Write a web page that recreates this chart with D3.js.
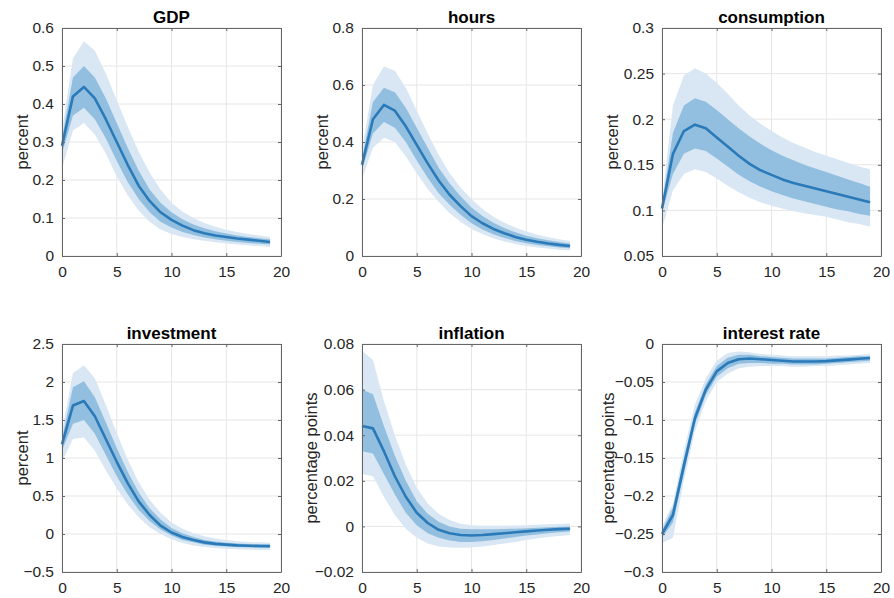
<!DOCTYPE html>
<html>
<head>
<meta charset="utf-8">
<script src="https://cdn.jsdelivr.net/npm/d3@7"></script>
<style>
  body { margin: 0; background: #fff; }
  text { font-family: "Liberation Sans", Arial, Helvetica, sans-serif; }
</style>
</head>
<body>
<div id="canvas"></div>
<script>
// horizon
const periods = d3.range(0, 20);

const titles = ['GDP', 'hours', 'consumption', 'investment', 'inflation', 'interest rate'];
const yLabels = ['percent', 'percent', 'percent', 'percent', 'percentage points', 'percentage points'];
const yDomains = [[0, 0.6], [0, 0.8], [0.05, 0.3], [-0.5, 2.5], [-0.02, 0.08], [-0.3, 0]];
const yTicks = [
  [0, 0.1, 0.2, 0.3, 0.4, 0.5, 0.6],
  [0, 0.2, 0.4, 0.6, 0.8],
  [0.05, 0.1, 0.15, 0.2, 0.25, 0.3],
  [-0.5, 0, 0.5, 1, 1.5, 2, 2.5],
  [-0.02, 0, 0.02, 0.04, 0.06, 0.08],
  [-0.3, -0.25, -0.2, -0.15, -0.1, -0.05, 0]
];
const xTicks = [0, 5, 10, 15, 20];

// median responses and bands [lower, upper]
const gdpMed = [0.29, 0.42, 0.445, 0.415, 0.36, 0.30, 0.24, 0.185, 0.145, 0.115, 0.095, 0.08, 0.068, 0.06, 0.054, 0.05, 0.046, 0.043, 0.04, 0.037];
const gdpIn = [
  [0.27, 0.37, 0.39, 0.36, 0.31, 0.25, 0.195, 0.15, 0.115, 0.09, 0.075, 0.063, 0.055, 0.049, 0.044, 0.04, 0.037, 0.034, 0.032, 0.03],
  [0.31, 0.47, 0.50, 0.47, 0.415, 0.35, 0.285, 0.225, 0.175, 0.14, 0.115, 0.097, 0.083, 0.073, 0.065, 0.059, 0.054, 0.05, 0.047, 0.044]
];
const gdpOut = [
  [0.23, 0.33, 0.35, 0.32, 0.27, 0.21, 0.16, 0.12, 0.09, 0.07, 0.058, 0.05, 0.044, 0.04, 0.036, 0.033, 0.03, 0.028, 0.026, 0.024],
  [0.33, 0.52, 0.565, 0.54, 0.48, 0.41, 0.34, 0.275, 0.22, 0.175, 0.14, 0.117, 0.1, 0.087, 0.077, 0.069, 0.063, 0.058, 0.054, 0.05]
];

const hoursMed = [0.32, 0.48, 0.53, 0.51, 0.455, 0.39, 0.325, 0.265, 0.215, 0.175, 0.14, 0.115, 0.095, 0.08, 0.067, 0.057, 0.05, 0.044, 0.039, 0.035];
const hoursIn = [
  [0.30, 0.43, 0.47, 0.45, 0.40, 0.335, 0.275, 0.22, 0.18, 0.145, 0.115, 0.093, 0.076, 0.063, 0.053, 0.045, 0.039, 0.034, 0.03, 0.027],
  [0.34, 0.54, 0.59, 0.575, 0.52, 0.45, 0.38, 0.31, 0.255, 0.21, 0.17, 0.14, 0.117, 0.098, 0.083, 0.071, 0.062, 0.055, 0.049, 0.044]
];
const hoursOut = [
  [0.27, 0.38, 0.415, 0.40, 0.35, 0.29, 0.235, 0.19, 0.15, 0.12, 0.095, 0.077, 0.062, 0.051, 0.042, 0.035, 0.03, 0.026, 0.022, 0.02],
  [0.37, 0.60, 0.665, 0.65, 0.59, 0.51, 0.43, 0.355, 0.29, 0.24, 0.20, 0.165, 0.138, 0.117, 0.10, 0.086, 0.075, 0.066, 0.059, 0.053]
];

const consMed = [0.102, 0.162, 0.187, 0.194, 0.19, 0.18, 0.17, 0.16, 0.151, 0.144, 0.139, 0.134, 0.13, 0.127, 0.124, 0.121, 0.118, 0.115, 0.112, 0.109];
const consIn = [
  [0.098, 0.14, 0.162, 0.168, 0.165, 0.157, 0.148, 0.139, 0.132, 0.126, 0.121, 0.117, 0.113, 0.11, 0.107, 0.104, 0.101, 0.099, 0.096, 0.094],
  [0.106, 0.185, 0.215, 0.223, 0.219, 0.21, 0.20, 0.19, 0.181, 0.173, 0.166, 0.16, 0.155, 0.15, 0.146, 0.142, 0.138, 0.134, 0.13, 0.126]
];
const consOut = [
  [0.08, 0.122, 0.14, 0.145, 0.142, 0.135, 0.127, 0.12, 0.114, 0.109, 0.105, 0.102, 0.099, 0.097, 0.095, 0.093, 0.09, 0.087, 0.085, 0.082],
  [0.11, 0.215, 0.248, 0.256, 0.25, 0.24, 0.228, 0.215, 0.204, 0.195, 0.187, 0.18, 0.174, 0.169, 0.164, 0.16, 0.156, 0.152, 0.148, 0.145]
];

const invMed = [1.18, 1.69, 1.75, 1.55, 1.25, 0.95, 0.67, 0.43, 0.25, 0.11, 0.02, -0.04, -0.08, -0.11, -0.13, -0.14, -0.15, -0.155, -0.158, -0.16];
const invIn = [
  [1.10, 1.45, 1.50, 1.32, 1.04, 0.76, 0.52, 0.32, 0.17, 0.06, -0.02, -0.08, -0.11, -0.14, -0.155, -0.165, -0.17, -0.175, -0.18, -0.18],
  [1.25, 1.93, 2.01, 1.80, 1.47, 1.13, 0.82, 0.55, 0.34, 0.19, 0.08, 0.01, -0.04, -0.08, -0.10, -0.115, -0.125, -0.13, -0.135, -0.14]
];
const invOut = [
  [0.95, 1.25, 1.27, 1.10, 0.84, 0.60, 0.39, 0.22, 0.09, 0.0, -0.07, -0.12, -0.15, -0.17, -0.185, -0.195, -0.20, -0.205, -0.21, -0.21],
  [1.35, 2.12, 2.22, 2.05, 1.70, 1.33, 0.98, 0.68, 0.45, 0.28, 0.15, 0.07, 0.01, -0.03, -0.06, -0.08, -0.095, -0.105, -0.11, -0.115]
];

const inflMed = [0.044, 0.043, 0.033, 0.022, 0.013, 0.006, 0.0015, -0.0015, -0.003, -0.0038, -0.004, -0.0038, -0.0034, -0.003, -0.0026, -0.0022, -0.0018, -0.0015, -0.0012, -0.001];
const inflIn = [
  [0.033, 0.032, 0.023, 0.014, 0.006, 0.0005, -0.003, -0.005, -0.0062, -0.0068, -0.0068, -0.0065, -0.006, -0.0053, -0.0046, -0.004, -0.0035, -0.003, -0.0026, -0.0022],
  [0.060, 0.058, 0.044, 0.031, 0.020, 0.011, 0.0055, 0.002, 0.0, -0.001, -0.0013, -0.0013, -0.0012, -0.0011, -0.001, -0.0008, -0.0006, -0.0004, -0.0002, 0.0]
];
const inflOut = [
  [0.023, 0.022, 0.013, 0.005, -0.001, -0.005, -0.0075, -0.0088, -0.0093, -0.0094, -0.0092, -0.0088, -0.0082, -0.0075, -0.0068, -0.006, -0.0053, -0.0047, -0.0042, -0.0038],
  [0.077, 0.073, 0.055, 0.040, 0.027, 0.017, 0.010, 0.0055, 0.0028, 0.0012, 0.0005, 0.0003, 0.0003, 0.0003, 0.0004, 0.0005, 0.0007, 0.0009, 0.0011, 0.0013]
];

const rateMed = [-0.25, -0.225, -0.16, -0.098, -0.06, -0.036, -0.025, -0.02, -0.019, -0.02, -0.021, -0.022, -0.023, -0.023, -0.023, -0.0225, -0.0215, -0.0205, -0.0195, -0.0185];
const rateIn = [
  [-0.255, -0.235, -0.17, -0.106, -0.067, -0.043, -0.032, -0.026, -0.025, -0.025, -0.026, -0.026, -0.027, -0.027, -0.027, -0.026, -0.025, -0.024, -0.023, -0.022],
  [-0.245, -0.215, -0.15, -0.09, -0.053, -0.029, -0.018, -0.014, -0.014, -0.016, -0.017, -0.018, -0.019, -0.019, -0.019, -0.019, -0.018, -0.017, -0.016, -0.016]
];
const rateOut = [
  [-0.262, -0.255, -0.18, -0.115, -0.075, -0.05, -0.039, -0.032, -0.03, -0.029, -0.029, -0.029, -0.03, -0.03, -0.029, -0.029, -0.028, -0.027, -0.026, -0.025],
  [-0.24, -0.21, -0.14, -0.08, -0.045, -0.022, -0.012, -0.01, -0.011, -0.013, -0.014, -0.015, -0.016, -0.016, -0.016, -0.016, -0.015, -0.015, -0.014, -0.013]
];

const medians = [gdpMed, hoursMed, consMed, invMed, inflMed, rateMed];
const innerBands = [gdpIn, hoursIn, consIn, invIn, inflIn, rateIn];
const outerBands = [gdpOut, hoursOut, consOut, invOut, inflOut, rateOut];

// layout
const width = 894, height = 598;
const plotW = 219, plotH = 228;
const lefts = [62, 362, 662];
const tops = [28, 344];
const yLabelOffset = [40, 40, 50, 40, 51, 54];

const svg = d3.select('#canvas')
  .append('svg')
  .attr('width', width)
  .attr('height', height);

const x = d3.scaleLinear().domain([0, 20]).range([0, plotW]);

titles.forEach((title, i) => {
  const col = i % 3, row = Math.floor(i / 3);
  const g = svg.append('g')
    .attr('transform', `translate(${lefts[col]}, ${tops[row]})`);

  const y = d3.scaleLinear().domain(yDomains[i]).range([plotH, 0]);

  // grid
  g.append('g').selectAll('line')
    .data(xTicks)
    .enter().append('line')
      .attr('x1', d => x(d)).attr('x2', d => x(d))
      .attr('y1', 0).attr('y2', plotH)
      .attr('stroke', '#e6e6e6').attr('stroke-width', 1);
  g.append('g').selectAll('line')
    .data(yTicks[i])
    .enter().append('line')
      .attr('x1', 0).attr('x2', plotW)
      .attr('y1', d => y(d)).attr('y2', d => y(d))
      .attr('stroke', '#e6e6e6').attr('stroke-width', 1);

  // bands
  const area = d3.area()
    .x((d, k) => x(periods[k]))
    .y0(d => y(d[0]))
    .y1(d => y(d[1]));

  const outer = periods.map((p, k) => [outerBands[i][0][k], outerBands[i][1][k]]);
  const inner = periods.map((p, k) => [innerBands[i][0][k], innerBands[i][1][k]]);

  g.append('path').datum(outer)
    .attr('fill', '#d8e7f3')
    .attr('d', area);
  g.append('path').datum(inner)
    .attr('fill', '#92bfdf')
    .attr('d', area);

  // median line
  const line = d3.line()
    .x((d, k) => x(periods[k]))
    .y(d => y(d));
  g.append('path').datum(medians[i])
    .attr('fill', 'none')
    .attr('stroke', '#2a7ab9')
    .attr('stroke-width', 2.6)
    .attr('stroke-linejoin', 'round')
    .attr('d', line);

  // axes (box with inward ticks)
  const xAxis = d3.axisBottom(x).tickValues(xTicks).tickSizeInner(-3).tickSizeOuter(0).tickPadding(10);
  const yAxis = d3.axisLeft(y).tickValues(yTicks[i]).tickSizeInner(-3).tickSizeOuter(0).tickPadding(8)
    .tickFormat(d3.format('~g'));

  const xg = g.append('g').attr('transform', `translate(0, ${plotH})`).call(xAxis);
  const yg = g.append('g').call(yAxis);
  const xgTop = g.append('g').call(d3.axisTop(x).tickValues(xTicks).tickSizeInner(-3).tickSizeOuter(0).tickFormat(''));
  const ygRight = g.append('g').attr('transform', `translate(${plotW}, 0)`)
    .call(d3.axisRight(y).tickValues(yTicks[i]).tickSizeInner(-3).tickSizeOuter(0).tickFormat(''));

  [xg, yg, xgTop, ygRight].forEach(a => {
    a.select('.domain').attr('stroke', '#666').attr('stroke-width', 1);
    a.selectAll('.tick line').attr('stroke', '#666');
    a.selectAll('text')
      .attr('fill', '#262626')
      .style('font-size', '15.5px')
      .style('font-family', '"Liberation Sans", Arial, sans-serif');
  });

  // title
  g.append('text')
    .attr('x', plotW / 2)
    .attr('y', -5)
    .attr('text-anchor', 'middle')
    .attr('font-weight', 'bold')
    .attr('font-size', 17)
    .attr('fill', '#000')
    .text(title);

  // y label
  g.append('text')
    .attr('transform', `translate(${-yLabelOffset[i]}, ${plotH / 2}) rotate(-90)`)
    .attr('text-anchor', 'middle')
    .attr('dy', '0.35em')
    .attr('font-size', 16.5)
    .attr('fill', '#262626')
    .text(yLabels[i]);
});
</script>
</body>
</html>
